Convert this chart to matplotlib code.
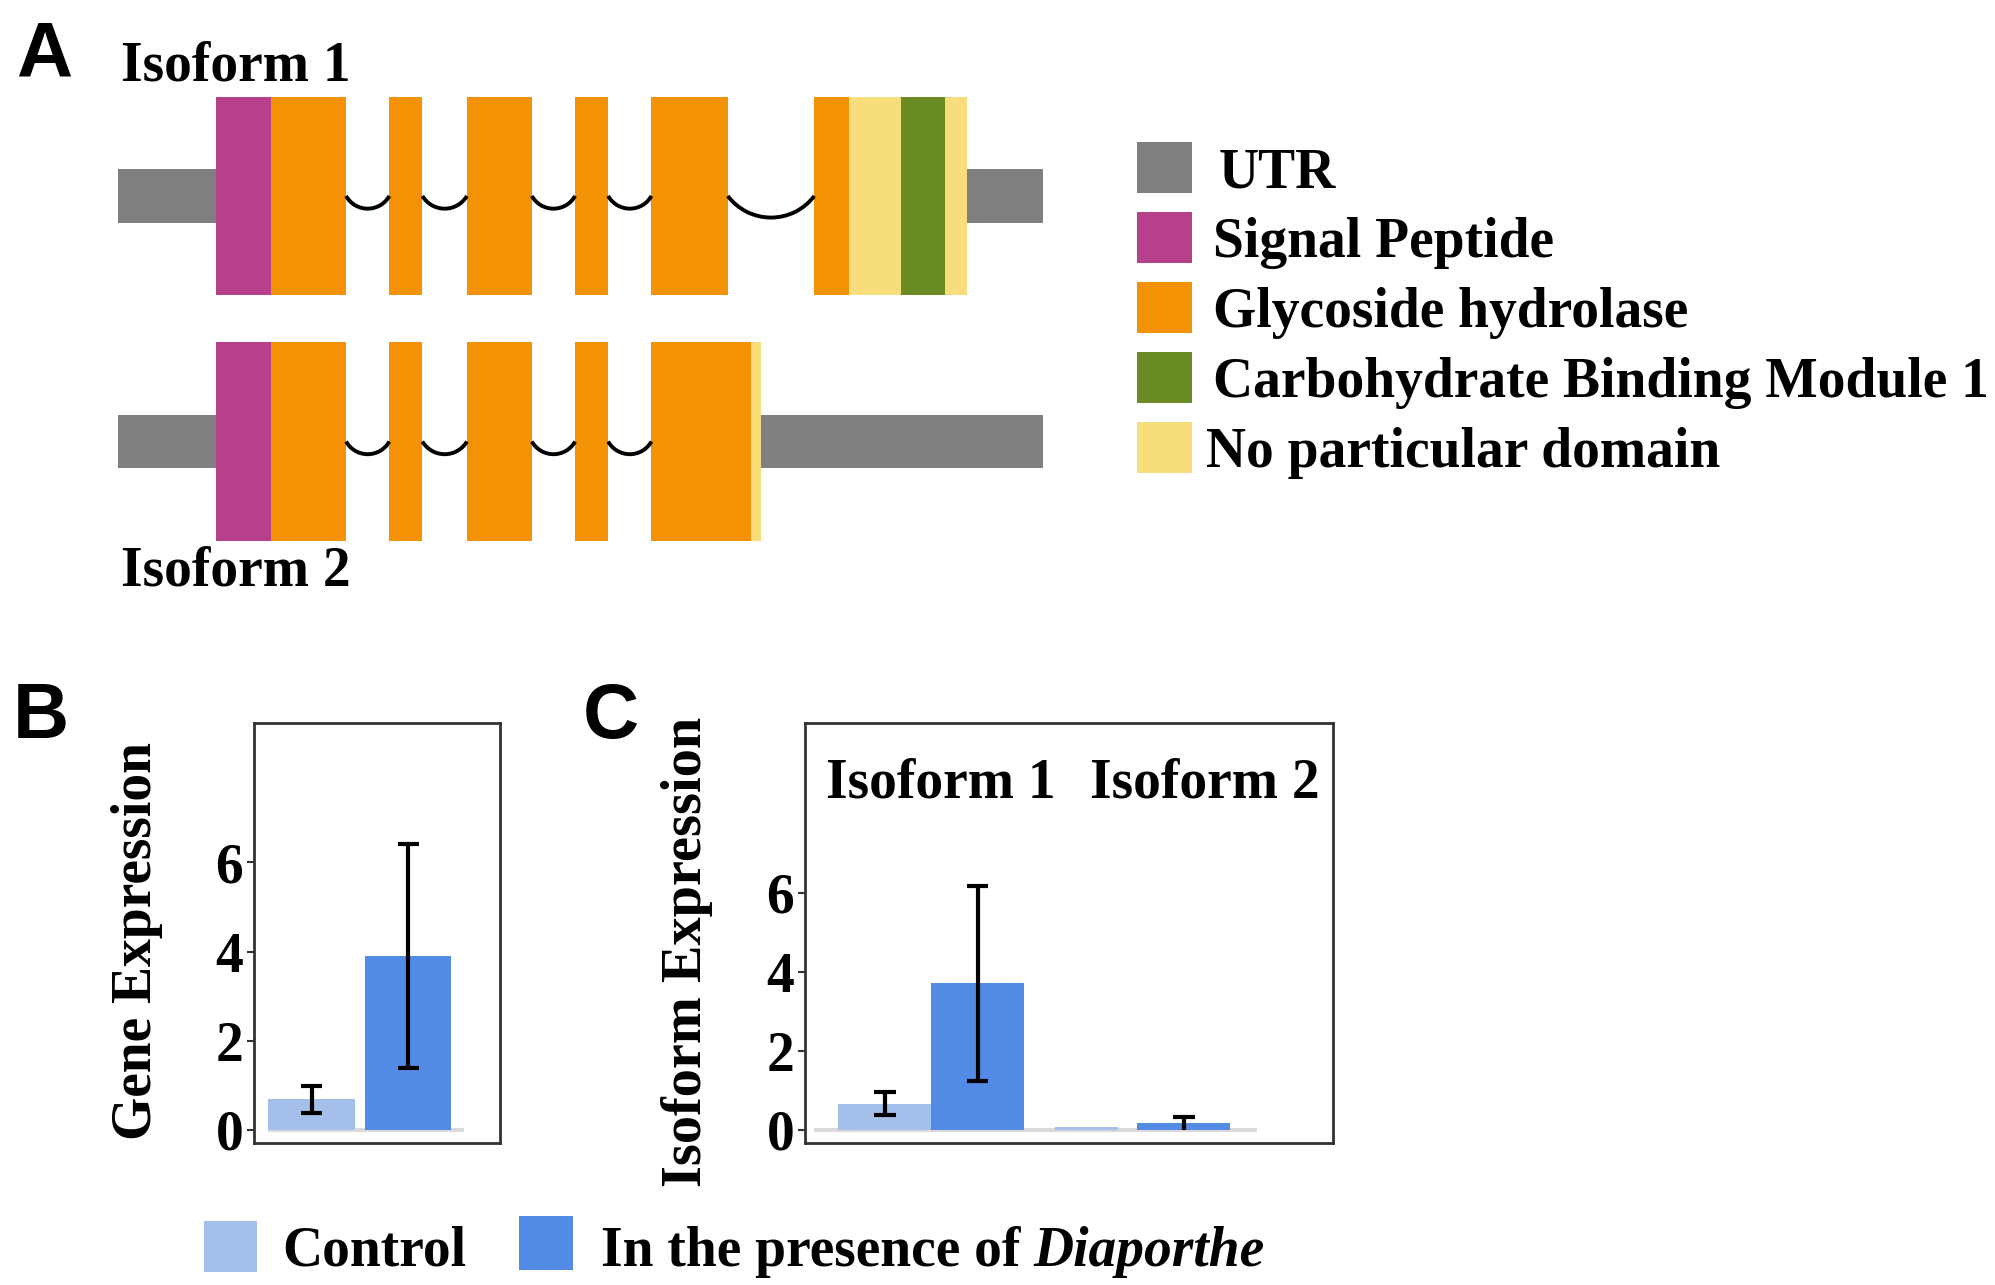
import matplotlib
matplotlib.use('Agg')
import matplotlib.pyplot as plt
import numpy as np
from matplotlib.patches import Rectangle, Arc

plt.rcParams['font.family'] = ['Liberation Serif', 'DejaVu Serif']
plt.rcParams['font.weight'] = 'bold'

# ---- panel A: gene models (positions along transcript, scaled units) ----
domain_names = ['UTR', 'Signal Peptide', 'Glycoside hydrolase',
                'Carbohydrate Binding Module 1', 'No particular domain']
domain_colors = ['#808083', '#B6418A', '#F39205', '#6A8C22', '#F8DD7C']

# (start, end, domain index)
iso1_utr = [(0, 77), (667, 727)]
iso1_blocks = [(77, 120, 1), (120, 179, 2), (213, 239, 2), (274, 325, 2),
               (359, 385, 2), (419, 479, 2), (547, 574, 2), (574, 615, 4),
               (615, 650, 3), (650, 667, 4)]
iso1_introns = [(179, 213), (239, 274), (325, 359), (385, 419), (479, 547)]

iso2_utr = [(0, 77), (505, 727)]
iso2_blocks = [(77, 120, 1), (120, 179, 2), (213, 239, 2), (274, 325, 2),
               (359, 385, 2), (419, 497, 2), (497, 505, 4)]
iso2_introns = [(179, 213), (239, 274), (325, 359), (385, 419)]

# ---- panel B / C: expression ----
conditions = ['Control', 'In the presence of ']
cond_colors = ['#A3BFEA', '#528AE5']

gene_mean = [0.68, 3.90]
gene_lo = [0.38, 1.38]
gene_hi = [0.98, 6.42]

iso_names = ['Isoform 1', 'Isoform 2']
iso_ctrl_mean = [0.65, 0.08]
iso_ctrl_lo = [0.38, None]
iso_ctrl_hi = [0.97, None]
iso_diap_mean = [3.72, 0.17]
iso_diap_lo = [1.24, 0.0]
iso_diap_hi = [6.18, 0.33]

W, H = 1568.0, 1010.0   # layout grid of the reference
fig = plt.figure(figsize=(19.95, 12.85), dpi=100)

def box(x0, y0, x1, y1):
    return [x0 / W, 1 - y1 / H, (x1 - x0) / W, (y1 - y0) / H]

# overlay for the diagram and free text
ov = fig.add_axes([0, 0, 1, 1])
ov.set_xlim(0, W)
ov.set_ylim(H, 0)
ov.axis('off')

FS = 40

def draw_model(utr, blocks, introns, yc):
    x0 = 93
    for s, e in utr:
        ov.add_patch(Rectangle((x0 + s, yc - 21), e - s, 42, color=domain_colors[0], lw=0))
    for s, e, k in blocks:
        ov.add_patch(Rectangle((x0 + s, yc - 78), e - s, 156, color=domain_colors[k], lw=0))
    for s, e in introns:
        half = (e - s) / 2
        sag = 10 if half < 25 else 17
        r = (half ** 2 + sag ** 2) / (2 * sag)
        a = np.degrees(np.arcsin(half / r))
        ov.add_patch(Arc((x0 + s + half, yc + sag - r), 2 * r, 2 * r,
                         theta1=90 - a, theta2=90 + a, color='black', lw=2.8))

draw_model(iso1_utr, iso1_blocks, iso1_introns, 154)
draw_model(iso2_utr, iso2_blocks, iso2_introns, 347)

ov.text(13, 60, 'A', family='Liberation Sans', fontsize=56, fontweight='bold', va='baseline')
ov.text(10, 580, 'B', family='Liberation Sans', fontsize=56, fontweight='bold', va='baseline')
ov.text(458, 580, 'C', family='Liberation Sans', fontsize=56, fontweight='bold', va='baseline')
ov.text(95, 63, 'Isoform 1', fontsize=FS, va='baseline')
ov.text(95, 460, 'Isoform 2', fontsize=FS, va='baseline')

# domain legend
leg_tops = [112, 167, 222, 277, 332]
leg_text_x = [958, 953, 953, 953, 948]
for i, name in enumerate(domain_names):
    ov.add_patch(Rectangle((894, leg_tops[i]), 43, 40, color=domain_colors[i], lw=0))
    ov.text(leg_text_x[i], leg_tops[i] + 35, name, fontsize=FS, va='baseline')

# condition legend
ov.add_patch(Rectangle((160, 960), 42, 40, color=cond_colors[0], lw=0))
ov.add_patch(Rectangle((408, 956), 42, 42, color=cond_colors[1], lw=0))
ov.text(222, 995, conditions[0], fontsize=FS, va='baseline')
t = ov.text(472, 995, conditions[1], fontsize=FS, va='baseline')
fig.canvas.draw()
bb = t.get_window_extent()
ov.text(bb.x1 / fig.dpi / 19.95 * W, 995, 'Diaporthe', fontsize=FS,
        style='italic', va='baseline')

# y labels
ov.text(108, 740, 'Gene Expression', fontsize=40, rotation=90, ha='center', va='center')
ov.text(540, 748, 'Isoform Expression', fontsize=40.5, rotation=90, ha='center', va='center')

def style_axes(ax):
    for sp in ax.spines.values():
        sp.set_color('#333333')
        sp.set_linewidth(2)
    ax.set_xticks([])
    ax.set_yticks([0, 2, 4, 6])
    ax.tick_params(axis='y', length=5, width=1.5, color='#333333', pad=3, labelsize=40)

def err(ax, x, lo, hi, cw):
    if lo is None:
        return
    ax.vlines(x, lo, hi, color='black', lw=3, zorder=4)
    ax.hlines(hi, x - cw, x + cw, color='black', lw=3, zorder=4)
    if lo > 0:
        ax.hlines(lo, x - cw, x + cw, color='black', lw=3, zorder=4)

# ---- panel B ----
axb = fig.add_axes(box(200, 568, 393, 898))
xb = [0, 1]
axb.hlines(0, -0.45, 1.58, color='#DADADA', lw=3, zorder=1)
axb.bar(xb, gene_mean, width=0.895, color=cond_colors, zorder=2)
for i in range(2):
    err(axb, xb[i], gene_lo[i], gene_hi[i], 0.11)
axb.set_xlim(-0.59, 1.95)
axb.set_ylim(-0.29, 9.14)
style_axes(axb)

# ---- panel C ----
axc = fig.add_axes(box(633, 568, 1048, 898))
xc_ctrl = [-0.5, 1.67]
xc_diap = [0.5, 2.72]
wc_ctrl = [1.0, 0.68]
axc.hlines(0, -1.26, 3.51, color='#DADADA', lw=3, zorder=1)
for i in range(2):
    axc.bar(xc_ctrl[i], iso_ctrl_mean[i], width=wc_ctrl[i], color=cond_colors[0], zorder=2)
    axc.bar(xc_diap[i], iso_diap_mean[i], width=1.0, color=cond_colors[1], zorder=2)
    err(axc, xc_ctrl[i], iso_ctrl_lo[i], iso_ctrl_hi[i], 0.115)
    err(axc, xc_diap[i], iso_diap_lo[i], iso_diap_hi[i], 0.115)
for x, name in zip([0.1, 2.95], iso_names):
    axc.text(x, 8.75, name, fontsize=FS, ha='center', va='center')
axc.set_xlim(-1.356, 4.33)
axc.set_ylim(-0.32, 10.3)
style_axes(axc)

fig.savefig('out.png', dpi=100)
